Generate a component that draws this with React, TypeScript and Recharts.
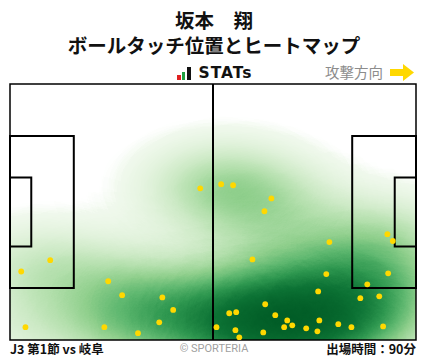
import { ReferenceArea, ReferenceLine, Scatter, ScatterChart, XAxis, YAxis } from 'recharts'

// pitch size in metres
const PITCH_LENGTH = 105
const PITCH_WIDTH = 68

// ball touches: metres from the own goal line / from the top touchline
const touchX = [
  49.2, 54.6, 57.7, 67.6, 65.8, 10.4, 2.9, 25.4, 29.0, 39.4, 42.2, 38.6, 4.0, 24.4,
  33.1, 97.6, 99.0, 82.6, 62.7, 81.8, 97.8, 92.4, 79.7, 90.6, 95.5, 66.0, 56.7, 58.5,
  68.6, 71.7, 80.0, 70.9, 73.0, 76.6, 79.5, 84.9, 88.3, 96.5, 53.4, 58.3, 59.3, 65.5
]
const touchY = [
  27.7, 26.6, 26.9, 30.4, 33.8, 46.8, 49.8, 52.4, 56.1, 56.7, 60.0, 63.3, 64.6, 64.6,
  66.2, 39.9, 41.7, 42.0, 46.6, 50.5, 50.3, 53.2, 55.1, 56.9, 56.4, 58.5, 60.9, 60.6,
  61.4, 62.8, 62.8, 64.6, 64.1, 64.9, 65.7, 63.8, 64.6, 64.4, 64.6, 65.4, 67.3, 66.0
]

const touches = touchX.map((x, i) => ({ x, y: touchY[i] }))

// pitch markings
const PENALTY_DEPTH = 16.5
const PENALTY_WIDTH = 40.32
const GOAL_AREA_DEPTH = 5.5
const GOAL_AREA_WIDTH = 18.32

const CHART_W = 428
const CHART_H = 359
const MARGIN = { top: 84, right: 12, bottom: 19, left: 10 }
const PX_PER_M_X = (CHART_W - MARGIN.left - MARGIN.right) / PITCH_LENGTH
const PX_PER_M_Y = (CHART_H - MARGIN.top - MARGIN.bottom) / PITCH_WIDTH

// kernel reach in metres (3 sigma)
const KERNEL_X = 40
const KERNEL_Y = 25
const KERNEL_PEAK = 0.15

// green ramp, intensity 0 .. 1 in steps of 0.1
const HEAT_COLORS = [
  '#f7fcf5', '#eef8ea', '#e0f2da', '#cdeac6', '#b2dfab', '#8fcf8c',
  '#5fb870', '#2f9850', '#0d7335', '#005a25', '#00441b'
]
const channel = (k: number) =>
  HEAT_COLORS.map((c) => (parseInt(c.slice(1 + k * 2, 3 + k * 2), 16) / 255).toFixed(3)).join(' ')
const ALPHA_RAMP = '0 0 ' + Array(24).fill('1').join(' ')

const gauss = Array.from({ length: 16 }, (_, i) => i / 15).map((o) => ({
  offset: o,
  opacity: o === 1 ? 0 : KERNEL_PEAK * Math.exp(-(o * 3) * (o * 3) / 2)
}))

function HeatBlob(props: any) {
  return (
    <ellipse
      cx={props.cx}
      cy={props.cy}
      rx={KERNEL_X * PX_PER_M_X}
      ry={KERNEL_Y * PX_PER_M_Y}
      fill="url(#blob)"
    />
  )
}

function TouchDot(props: any) {
  return <circle cx={props.cx} cy={props.cy} r={2.9} fill="#ffd800" />
}

const jp = '"Noto Sans CJK JP", "Noto Sans", sans-serif'

export default function App() {
  const box = { fill: 'none', stroke: '#000', strokeWidth: 2, fillOpacity: 0, zIndex: 200 } as any
  return (
    <div
      style={{
        position: 'absolute',
        left: 0,
        top: 0,
        width: CHART_W,
        height: CHART_H,
        background: '#fff',
        fontFamily: jp,
        color: '#111'
      }}
    >
      <style>{`.heat-layer { filter: url(#heatmap); }`}</style>
      <div style={{ position: 'absolute', top: 9, left: 0, width: CHART_W, textAlign: 'center', fontWeight: 700, fontSize: 19.5, lineHeight: '22px' }}>
        坂本　翔
      </div>
      <div style={{ position: 'absolute', top: 34, left: 0, width: CHART_W, textAlign: 'center', fontWeight: 700, fontSize: 19.5, lineHeight: '22px' }}>
        ボールタッチ位置とヒートマップ
      </div>
      <div style={{ position: 'absolute', left: 177, top: 67, display: 'flex', alignItems: 'flex-end', height: 13, gap: 1 }}>
        <div style={{ width: 3.5, height: 5, background: '#e02020' }} />
        <div style={{ width: 3.5, height: 8, background: '#1fa040' }} />
        <div style={{ width: 3.5, height: 13, background: '#111', marginLeft: 1 }} />
        <span style={{ marginLeft: 7, fontFamily: '"DejaVu Sans", sans-serif', fontWeight: 700, fontSize: 15.5, lineHeight: '13px', letterSpacing: 1 }}>
          STATs
        </span>
      </div>
      <div style={{ position: 'absolute', left: 325, top: 62, fontSize: 14.5, color: '#8c8c8c', lineHeight: '20px' }}>攻撃方向</div>
      <svg style={{ position: 'absolute', left: 390, top: 64 }} width={26} height={17}>
        <rect x={0} y={5} width={14} height={7} fill="#ffd800" />
        <polygon points="13,0 24,8.5 13,17" fill="#ffd800" />
      </svg>
      <ScatterChart width={CHART_W} height={CHART_H} margin={MARGIN}>
        <defs>
          <radialGradient id="blob">
            {gauss.map((s) => (
              <stop key={s.offset} offset={s.offset} stopColor="#000" stopOpacity={s.opacity} />
            ))}
          </radialGradient>
          <filter id="heatmap" colorInterpolationFilters="sRGB">
            <feColorMatrix type="matrix" values="0 0 0 1 0  0 0 0 1 0  0 0 0 1 0  0 0 0 1 0" />
            <feComponentTransfer>
              <feFuncR type="table" tableValues={channel(0)} />
              <feFuncG type="table" tableValues={channel(1)} />
              <feFuncB type="table" tableValues={channel(2)} />
              <feFuncA type="table" tableValues={ALPHA_RAMP} />
            </feComponentTransfer>
          </filter>
        </defs>
        <XAxis type="number" dataKey="x" domain={[0, PITCH_LENGTH]} allowDataOverflow hide />
        <YAxis type="number" dataKey="y" domain={[0, PITCH_WIDTH]} reversed allowDataOverflow hide />
        <Scatter
          data={touches}
          className="heat-layer"
          shape={HeatBlob}
          isAnimationActive={false}
          zIndex={100}
        />
        <ReferenceArea x1={0} x2={PITCH_LENGTH} y1={0} y2={PITCH_WIDTH} {...box} strokeWidth={1.5} />
        <ReferenceArea
          x1={0}
          x2={PENALTY_DEPTH}
          y1={(PITCH_WIDTH - PENALTY_WIDTH) / 2}
          y2={(PITCH_WIDTH + PENALTY_WIDTH) / 2}
          {...box}
        />
        <ReferenceArea
          x1={0}
          x2={GOAL_AREA_DEPTH}
          y1={(PITCH_WIDTH - GOAL_AREA_WIDTH) / 2}
          y2={(PITCH_WIDTH + GOAL_AREA_WIDTH) / 2}
          {...box}
        />
        <ReferenceArea
          x1={PITCH_LENGTH - PENALTY_DEPTH}
          x2={PITCH_LENGTH}
          y1={(PITCH_WIDTH - PENALTY_WIDTH) / 2}
          y2={(PITCH_WIDTH + PENALTY_WIDTH) / 2}
          {...box}
        />
        <ReferenceArea
          x1={PITCH_LENGTH - GOAL_AREA_DEPTH}
          x2={PITCH_LENGTH}
          y1={(PITCH_WIDTH - GOAL_AREA_WIDTH) / 2}
          y2={(PITCH_WIDTH + GOAL_AREA_WIDTH) / 2}
          {...box}
        />
        <ReferenceLine x={PITCH_LENGTH / 2} stroke="#000" strokeWidth={2} zIndex={200} />
        <Scatter data={touches} shape={TouchDot} isAnimationActive={false} zIndex={300} />
      </ScatterChart>
      <div style={{ position: 'absolute', left: 10, top: 340, fontSize: 12.5, fontWeight: 700, lineHeight: '18px' }}>
        J3 第1節 vs 岐阜
      </div>
      <div style={{ position: 'absolute', left: 0, width: CHART_W, top: 341, textAlign: 'center', fontSize: 11, color: '#a0a0a0', fontFamily: 'Roboto, sans-serif', lineHeight: '16px' }}>
        © SPORTERIA
      </div>
      <div style={{ position: 'absolute', right: 12, top: 340, fontSize: 12.5, fontWeight: 700, lineHeight: '18px' }}>
        出場時間：90分
      </div>
    </div>
  )
}
